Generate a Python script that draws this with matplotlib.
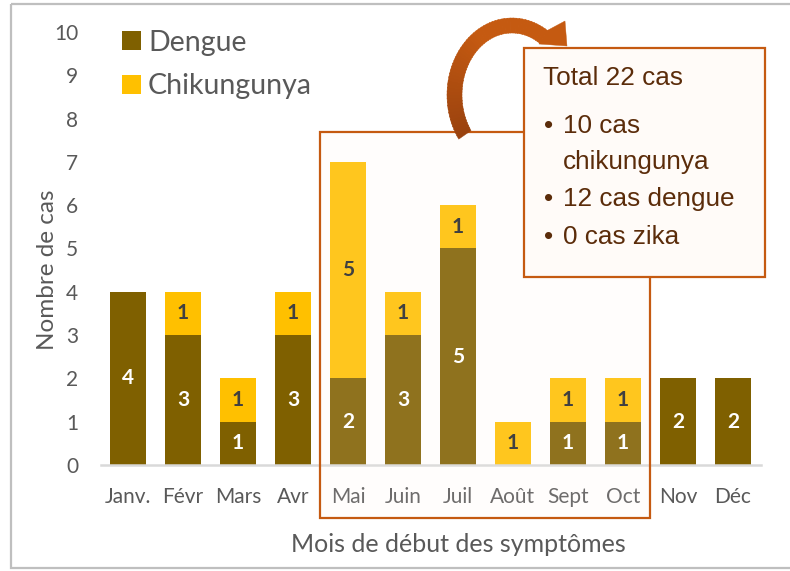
import numpy as np
import matplotlib
matplotlib.use("Agg")
import matplotlib.pyplot as plt
from matplotlib.patches import Rectangle, Polygon, Patch
from matplotlib.transforms import Affine2D
from matplotlib.colors import to_rgb

# ---- data ----
months = ['Janv.', 'Févr', 'Mars', 'Avr', 'Mai', 'Juin', 'Juil', 'Août', 'Sept', 'Oct', 'Nov', 'Déc']
dengue = [4, 3, 1, 3, 2, 3, 5, 0, 1, 1, 2, 2]
chik = [0, 1, 1, 1, 5, 1, 1, 1, 1, 1, 0, 0]
yticks = list(range(0, 11))
series_names = ['Dengue', 'Chikungunya']
callout_title = 'Total 22 cas'
callout_items = [['10 cas', 'chikungunya'], ['12 cas dengue'], ['0 cas zika']]

C_DEN = '#7F6000'
C_CHI = '#FFC000'
C_ORANGE = '#C55A11'
GRAY = '#595959'
FONT = 'Lato'

W, H = 790, 571
fig = plt.figure(figsize=(W / 100, H / 100), dpi=100)
ax = fig.add_axes([100.5 / W, 1 - 465 / H, 660 / W, 433 / H])
PX = Affine2D().scale(1 / W, -1 / H).translate(0, 1) + fig.transFigure

x = np.arange(len(months))
bw = 0.64
ax.bar(x, dengue, width=bw, color=C_DEN, zorder=2)
ax.bar(x, chik, width=bw, bottom=dengue, color=C_CHI, zorder=2)

for xi, d, c in zip(x, dengue, chik):
    if d > 0:
        ax.text(xi, d / 2, str(d), ha='center', va='center', color='white',
                fontsize=15, fontweight='bold', family=FONT, zorder=4)
    if c > 0:
        ax.text(xi, d + c / 2, str(c), ha='center', va='center', color='#404040',
                fontsize=15, fontweight='bold', family=FONT, zorder=4)

ax.set_xlim(-0.5, len(months) - 0.5)
ax.set_ylim(0, 10)
ax.set_yticks(yticks)
ax.set_xticks(x)
ax.set_xticklabels(months)
ax.tick_params(axis='both', length=0, labelsize=15, labelcolor=GRAY)
ax.tick_params(axis='y', pad=16)
ax.tick_params(axis='x', pad=16)
for lab in ax.get_xticklabels() + ax.get_yticklabels():
    lab.set_family(FONT)
for s in ['top', 'right', 'left']:
    ax.spines[s].set_visible(False)
ax.spines['bottom'].set_color('#D9D9D9')
ax.spines['bottom'].set_linewidth(1.8)
ax.set_facecolor('none')

fig.text(48 / W, 1 - 270 / H, 'Nombre de cas', rotation=90, ha='center', va='center',
         fontsize=17.5, color=GRAY, family=FONT)
fig.text(458 / W, 1 - 545 / H, 'Mois de début des symptômes', ha='center', va='center',
         fontsize=18, color=GRAY, family=FONT)

# legend
handles = [Patch(facecolor=C_DEN), Patch(facecolor=C_CHI)]
leg = ax.legend(handles, series_names, loc='upper left', bbox_to_anchor=(96 / W, 1 - 4 / H),
                bbox_transform=fig.transFigure, frameon=False,
                handlelength=0.68, handleheight=0.68, handletextpad=0.25, labelspacing=0.62,
                prop={'family': FONT, 'size': 20.5})
for t in leg.get_texts():
    t.set_color(GRAY)

# outer frame
ax.add_patch(Rectangle((11, 4), 800, 564, transform=PX, fill=False, edgecolor='#BFBFBF',
                       lw=1.6, clip_on=False, zorder=10))

# highlight box
ax.add_patch(Rectangle((320, 132), 330, 386, transform=PX, facecolor=(1, 0.95, 0.93),
                       alpha=0.13, edgecolor='none', clip_on=False, zorder=3))
ax.add_patch(Rectangle((320, 132), 330, 386, transform=PX, fill=False,
                       edgecolor=C_ORANGE, lw=1.6, clip_on=False, zorder=3.5))

# callout box
ax.add_patch(Rectangle((524, 48), 241, 229, transform=PX, facecolor='#FFFBF8',
                       edgecolor=C_ORANGE, lw=1.6, clip_on=False, zorder=5))
TXT = '#5B2C0A'
FS = 18.8
ax.text(543, 78, callout_title, transform=PX, ha='left', va='center', fontsize=FS,
        color=TXT, family='Liberation Sans', zorder=6, clip_on=False)
ys = [126, 162, 199, 237]
k = 0
for item in callout_items:
    for j, line in enumerate(item):
        if j == 0:
            ax.text(544, ys[k], '•', transform=PX, ha='left', va='center', fontsize=FS,
                    color=TXT, family='Liberation Sans', zorder=6, clip_on=False)
        ax.text(563, ys[k], line, transform=PX, ha='left', va='center', fontsize=FS,
                color=TXT, family='Liberation Sans', zorder=6, clip_on=False)
        k += 1

# curved arrow (decoration), shaded from dark at the tail to orange at the head
cx, cy = 512, 95
dark = np.array(to_rgb('#9A420E'))
orng = np.array(to_rgb(C_ORANGE))
angles = np.linspace(215, 57, 60)
for a0, a1 in zip(angles[:-1], angles[1:]):
    th = np.radians(np.linspace(a0, a1 - 0.6, 4))
    o = np.column_stack([cx + 65 * np.cos(th), cy - 77 * np.sin(th)])
    i = np.column_stack([cx + 50 * np.cos(th), cy - 62 * np.sin(th)])[::-1]
    f = np.clip((215 - a0) / 90, 0, 1)
    col = dark * (1 - f) + orng * f
    ax.add_patch(Polygon(np.vstack([o, i]), closed=True, transform=PX, facecolor=col,
                         edgecolor=col, lw=0.3, clip_on=False, zorder=5))
thE = np.radians(57)
head = np.array([[cx + 65 * np.cos(thE), cy - 77 * np.sin(thE)], [565, 21], [567, 46], [539, 44],
                 [cx + 50 * np.cos(thE), cy - 62 * np.sin(thE)]])
ax.add_patch(Polygon(head, closed=True, transform=PX, facecolor=C_ORANGE,
                     edgecolor=C_ORANGE, lw=0.3, clip_on=False, zorder=5))

fig.savefig('out.png', dpi=100)
